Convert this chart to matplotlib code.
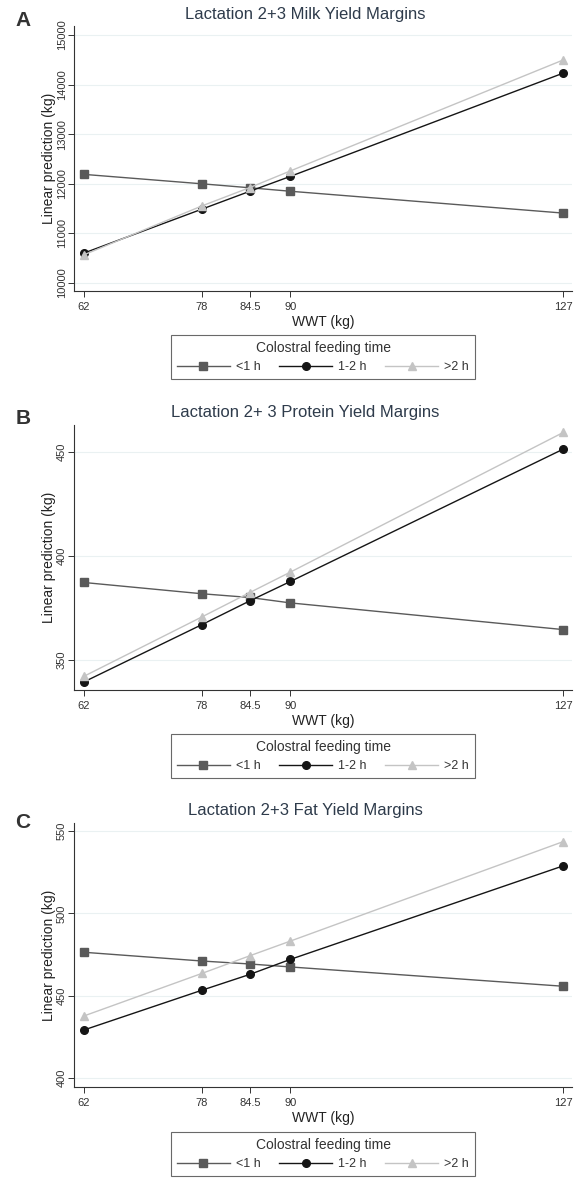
import matplotlib
matplotlib.use("Agg")
import matplotlib.pyplot as plt
from matplotlib.ticker import FixedLocator

plt.rcParams['font.family'] = ['Liberation Sans', 'DejaVu Sans']

# data
wwt = [62, 78, 84.5, 90, 127]
wwt_labels = ['62', '78', '84.5', '90', '127']
groups = ['<1 h', '1-2 h', '>2 h']

milk = {
    '<1 h': [12190, 12000, 11920, 11850, 11410],
    '1-2 h': [10605, 11490, 11850, 12150, 14230],
    '>2 h': [10570, 11555, 11925, 12260, 14495],
}
protein = {
    '<1 h': [387.2, 381.8, 380.0, 377.4, 364.6],
    '1-2 h': [339.5, 367.0, 378.4, 387.7, 451.2],
    '>2 h': [342.2, 370.7, 382.4, 392.2, 459.2],
}
fat = {
    '<1 h': [476.4, 471.1, 469.3, 467.5, 455.8],
    '1-2 h': [429.3, 453.4, 463.0, 472.1, 528.8],
    '>2 h': [437.8, 463.6, 474.3, 483.2, 543.5],
}

titles = ['Lactation 2+3 Milk Yield Margins',
          'Lactation 2+ 3 Protein Yield Margins',
          'Lactation 2+3 Fat Yield Margins']
letters = ['A', 'B', 'C']
yticks_list = [[10000, 11000, 12000, 13000, 14000, 15000],
               [350, 400, 450],
               [400, 450, 500, 550]]
ylims = [(9840, 15180), (335.6, 462.8), (394.7, 554.8)]
datasets = [milk, protein, fat]

styles = {
    '<1 h': dict(color='#5a5a5a', marker='s', ms=5.5),
    '1-2 h': dict(color='#151515', marker='o', ms=5.5),
    '>2 h': dict(color='#c4c4c4', marker='^', ms=6),
}

W, H = 574, 1180
fig = plt.figure(figsize=(W / 100, H / 100), dpi=100)

# pixel layout: (axes top, axes bottom, title y, letter y, legend top)
panels = [(26, 291, 15, 20, 335),
          (425, 690, 413, 419, 734),
          (823, 1087, 811, 822, 1132)]
ax_left, ax_right = 74, 572

for i, (top, bot, ty, ly, lt) in enumerate(panels):
    ax = fig.add_axes([ax_left / W, 1 - bot / H, (ax_right - ax_left) / W, (bot - top) / H])
    data = datasets[i]
    for g in groups:
        st = styles[g]
        ax.plot(wwt, data[g], color=st['color'], marker=st['marker'], ms=st['ms'],
                lw=1.0, label=g)
    ax.set_xlim(60.64, 128.2)
    ax.set_ylim(*ylims[i])
    ax.set_xticks(wwt)
    ax.set_xticklabels(wwt_labels)
    ax.yaxis.set_major_locator(FixedLocator(yticks_list[i]))
    ax.set_yticklabels([str(v) for v in yticks_list[i]], rotation=90, va='center')
    ax.tick_params(labelsize=8, length=4, width=0.7, color='#333333',
                   labelcolor='#333333')
    ax.tick_params(axis='x', pad=4)
    ax.tick_params(axis='y', pad=1)
    ax.grid(axis='y', color='#eaf1f2', lw=0.8)
    ax.set_axisbelow(True)
    for s in ['top', 'right']:
        ax.spines[s].set_visible(False)
    for s in ['left', 'bottom']:
        ax.spines[s].set_linewidth(0.8)
        ax.spines[s].set_color('#333333')
    ax.set_xlabel('WWT (kg)', fontsize=10, labelpad=2, color='#222222')
    ax.set_ylabel('Linear prediction (kg)', fontsize=10, labelpad=1, color='#222222')

    fig.text(305 / W, 1 - ty / H, titles[i], fontsize=12, color='#2e3b4b',
             ha='center', va='center')
    fig.text(23 / W, 1 - ly / H, letters[i], fontsize=15, fontweight='bold',
             color='#333333', ha='center', va='center')

    leg = fig.legend(*ax.get_legend_handles_labels(), loc='upper center',
                     bbox_to_anchor=(323 / W, 1 - lt / H), borderaxespad=0, ncol=3,
                     title='Colostral feeding time', title_fontsize=10, fontsize=9,
                     frameon=True, fancybox=False, edgecolor='#444444',
                     handlelength=4.2, columnspacing=1.5, handletextpad=0.5,
                     borderpad=0.5, labelspacing=0.45)
    leg.get_frame().set_linewidth(0.8)
    for t in leg.get_texts():
        t.set_color('#333333')
    leg.get_title().set_color('#333333')

fig.savefig('out.png', dpi=100)
